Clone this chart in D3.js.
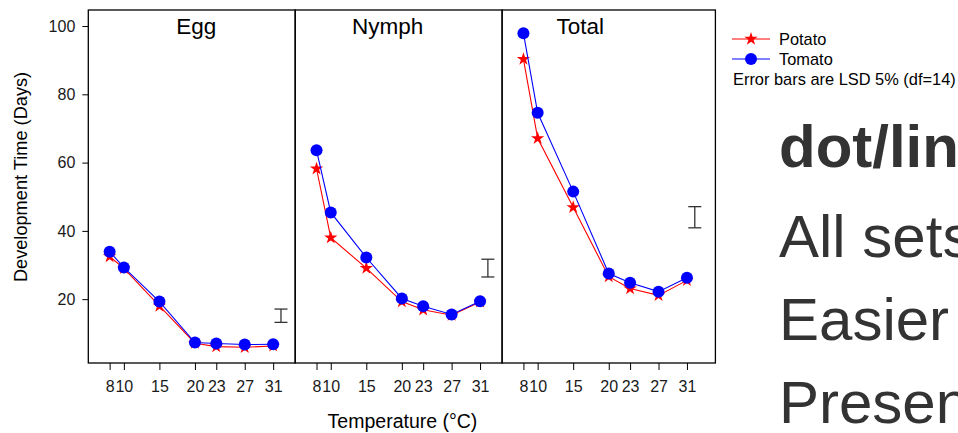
<!DOCTYPE html>
<html>
<head>
<meta charset="utf-8">
<script src="https://cdn.jsdelivr.net/npm/d3@7"></script>
<style>
  html, body { margin: 0; padding: 0; background: #fff; overflow: hidden; }
  svg { display: block; font-family: "Liberation Sans", Arial, sans-serif; }
</style>
</head>
<body>
<div id="vis"></div>
<script>
// ── Data ──────────────────────────────────────────────────────────────
const temps = [8, 10, 15, 20, 23, 27, 31];
const stages = ["Egg", "Nymph", "Total"];

const potatoEgg   = [32.5, 29.0, 18.0, 7.1, 6.1, 5.9, 6.3];
const tomatoEgg   = [33.9, 29.3, 19.3, 7.3, 7.0, 6.7, 6.8];
const potatoNymph = [58.2, 38.0, 29.1, 19.3, 16.9, 15.3, 19.2];
const tomatoNymph = [63.6, 45.4, 32.2, 20.2, 17.9, 15.5, 19.4];
const potatoTotal = [90.3, 67.1, 46.9, 26.6, 23.1, 21.1, 25.5];
const tomatoTotal = [97.9, 74.6, 51.5, 27.5, 24.8, 22.2, 26.3];

// LSD bars: [low, high] per stage
const lsdBars = [[13.2, 17.1], [26.5, 31.7], [40.9, 47.1]];
const yTicks = [20, 40, 60, 80, 100];

const bigLines = ["dot/line charts", "All sets of data", "Easier to compare", "Presentation"];

// ── Layout ────────────────────────────────────────────────────────────
const W = 958, H = 433;
const yTop = 10, yBottom = 363;
const pxPerDeg = 7.11;
const xMin = 5;
const xMax = [34.1, 34.1, 35];
const panelLeft = [88.3];
xMax.forEach((m, i) => { if (i > 0) panelLeft.push(panelLeft[i - 1] + (xMax[i - 1] - xMin) * pxPerDeg); });

const svg = d3.select("#vis").append("svg").attr("width", W).attr("height", H);

const y = d3.scaleLinear().domain([1.3, 104.7]).range([yBottom, yTop]);

const series = [
  { name: "Potato", color: "#ff0000", shape: "star", data: [potatoEgg, potatoNymph, potatoTotal] },
  { name: "Tomato", color: "#0000ff", shape: "dot",  data: [tomatoEgg, tomatoNymph, tomatoTotal] },
];

const starPath = d3.symbol().type(d3.symbolStar).size(55)();

function marker(g, shape, color, cx, cy) {
  if (shape === "star") {
    g.append("path").attr("d", starPath).attr("fill", color)
      .attr("transform", `translate(${cx},${cy})`);
  } else {
    g.append("circle").attr("cx", cx).attr("cy", cy).attr("r", 6).attr("fill", color);
  }
}

// ── Panels ────────────────────────────────────────────────────────────
stages.forEach((st, i) => {
  const x0 = panelLeft[i];
  const x1 = x0 + (xMax[i] - xMin) * pxPerDeg;
  const x = d3.scaleLinear().domain([xMin, xMax[i]]).range([x0, x1]);
  const g = svg.append("g");

  // bottom axis
  const ax = g.append("g").attr("transform", `translate(0,${yBottom})`)
    .call(d3.axisBottom(x).tickValues(temps).tickSize(7).tickPadding(11).tickSizeOuter(0));
  ax.select(".domain").remove();
  ax.selectAll("line").attr("stroke", "#000");
  ax.selectAll("text").attr("font-size", 16).attr("fill", "#1a1a1a")
    .attr("font-family", "Liberation Sans, Arial, sans-serif");

  // title
  const titleX = [20.2, 18, 16][i];
  g.append("text").attr("x", x(titleX)).attr("y", yTop + 24)
    .attr("text-anchor", "middle").attr("font-size", 22.5).attr("fill", "#000").text(st);

  // series
  series.forEach(s => {
    const vals = s.data[i];
    const line = d3.line().x((d, j) => x(temps[j])).y(d => y(d));
    g.append("path").datum(vals).attr("d", line)
      .attr("fill", "none").attr("stroke", s.color).attr("stroke-width", 1.1);
    vals.forEach((v, j) => marker(g, s.shape, s.color, x(temps[j]), y(v)));
  });

  // LSD bar
  const [lo, hi] = lsdBars[i];
  const bx = x(32.1);
  const eb = g.append("g").attr("stroke", "#333").attr("stroke-width", 1.3);
  eb.append("line").attr("x1", bx).attr("x2", bx).attr("y1", y(lo)).attr("y2", y(hi));
  eb.append("line").attr("x1", bx - 6.5).attr("x2", bx + 6.5).attr("y1", y(lo)).attr("y2", y(lo));
  eb.append("line").attr("x1", bx - 6.5).attr("x2", bx + 6.5).attr("y1", y(hi)).attr("y2", y(hi));

  // frame
  g.append("rect").attr("x", x0).attr("y", yTop).attr("width", x1 - x0).attr("height", yBottom - yTop)
    .attr("fill", "none").attr("stroke", "#000").attr("stroke-width", 1.3);
});

// ── Y axis ────────────────────────────────────────────────────────────
const ay = svg.append("g").attr("transform", `translate(${panelLeft[0]},0)`)
  .call(d3.axisLeft(y).tickValues(yTicks).tickSize(6).tickPadding(7).tickSizeOuter(0));
ay.select(".domain").remove();
ay.selectAll("line").attr("stroke", "#000");
ay.selectAll("text").attr("font-size", 16).attr("fill", "#1a1a1a")
  .attr("font-family", "Liberation Sans, Arial, sans-serif");

svg.append("text").attr("transform", "translate(27,177) rotate(-90)")
  .attr("text-anchor", "middle").attr("font-size", 18.2).attr("fill", "#000")
  .text("Development Time (Days)");

svg.append("text").attr("x", 402.5).attr("y", 428)
  .attr("text-anchor", "middle").attr("font-size", 19.5).attr("fill", "#000")
  .text("Temperature (°C)");

// ── Legend ────────────────────────────────────────────────────────────
const lg = svg.append("g");
series.forEach((s, i) => {
  const ly = 39 + i * 20;
  lg.append("line").attr("x1", 732).attr("x2", 770).attr("y1", ly).attr("y2", ly)
    .attr("stroke", s.color).attr("stroke-width", 1.1);
  marker(lg, s.shape, s.color, 751, ly);
  lg.append("text").attr("x", 779).attr("y", ly + 6).attr("font-size", 16.4).attr("fill", "#000").text(s.name);
});
lg.append("text").attr("x", 733).attr("y", 85).attr("font-size", 16.4).attr("fill", "#000")
  .text("Error bars are LSD 5% (df=14)");

// ── Slide text ────────────────────────────────────────────────────────
bigLines.forEach((t, i) => {
  svg.append("text").attr("x", 779).attr("y", [167, 257, 340, 423][i])
    .attr("font-size", 60).attr("font-weight", i === 0 ? 700 : 400)
    .attr("fill", "#333").text(t);
});
</script>
</body>
</html>
